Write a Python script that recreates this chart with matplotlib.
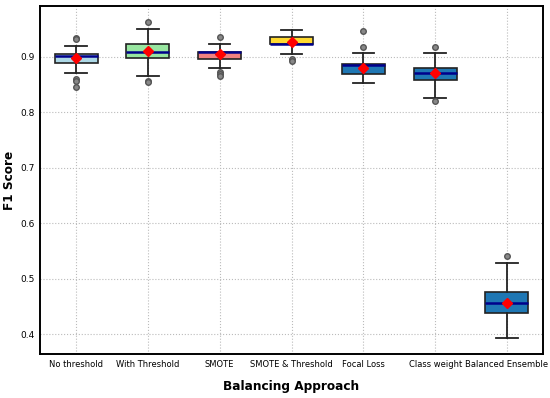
import matplotlib
matplotlib.use("Agg")
import matplotlib.pyplot as plt

categories = ["No threshold", "With Threshold", "SMOTE", "SMOTE & Threshold",
              "Focal Loss", "Class weight", "Balanced Ensemble"]
q1 = [0.889, 0.897, 0.895, 0.922, 0.869, 0.8575, 0.438]
med = [0.902, 0.909, 0.908, 0.9235, 0.8856, 0.870, 0.456]
q3 = [0.904, 0.923, 0.909, 0.9355, 0.887, 0.880, 0.4766]
whislo = [0.870, 0.865, 0.880, 0.9055, 0.853, 0.826, 0.393]
whishi = [0.920, 0.950, 0.923, 0.948, 0.907, 0.907, 0.529]
means = [0.898, 0.910, 0.904, 0.927, 0.880, 0.8706, 0.4575]
fliers = [[0.933, 0.931, 0.860, 0.857, 0.845],
          [0.9625, 0.856, 0.854],
          [0.935, 0.872, 0.868, 0.866],
          [0.895, 0.892],
          [0.946, 0.917],
          [0.917, 0.820],
          [0.5414]]
colors = ["#ADD8E6", "#98E6A0", "#F08080", "#FFD92F", "#1f77b4", "#1f77b4", "#1f77b4"]

stats = []
for i, c in enumerate(categories):
    stats.append(dict(label=c, q1=q1[i], med=med[i], q3=q3[i], whislo=whislo[i],
                      whishi=whishi[i], mean=means[i], fliers=fliers[i]))

fig, ax = plt.subplots(figsize=(5.5, 3.98), dpi=100)
fig.subplots_adjust(left=0.073, right=0.987, top=0.985, bottom=0.11)

bp = ax.bxp(stats, positions=range(len(categories)), widths=0.6, patch_artist=True,
            showmeans=True,
            boxprops=dict(edgecolor="#222222", linewidth=1.2),
            medianprops=dict(color="#00008B", linewidth=1.8),
            whiskerprops=dict(color="#222222", linewidth=1.3),
            capprops=dict(color="#222222", linewidth=1.3),
            flierprops=dict(marker="o", markerfacecolor="#888888", markeredgecolor="#555555",
                            markersize=4, linestyle="none"),
            meanprops=dict(marker="D", markerfacecolor="red", markeredgecolor="red",
                           markersize=5))
for patch, col in zip(bp["boxes"], colors):
    patch.set_facecolor(col)

ax.set_xlim(-0.5, 6.5)
ax.set_ylim(0.3645, 0.9913)
ax.set_yticks([0.4, 0.5, 0.6, 0.7, 0.8, 0.9])
ax.grid(True, linestyle=":", color="#bbbbbb", linewidth=0.8)
ax.set_axisbelow(True)
ax.tick_params(axis="y", labelsize=6.5, length=0, pad=4)
ax.tick_params(axis="x", labelsize=6, length=0, pad=4)
ax.set_xticklabels(categories)
for s in ax.spines.values():
    s.set_linewidth(1.4)
ax.set_xlabel("Balancing Approach", fontsize=8.7, fontweight="bold", labelpad=8)
ax.set_ylabel("F1 Score", fontsize=8.7, fontweight="bold", labelpad=3)

fig.savefig("out.png", dpi=100)
